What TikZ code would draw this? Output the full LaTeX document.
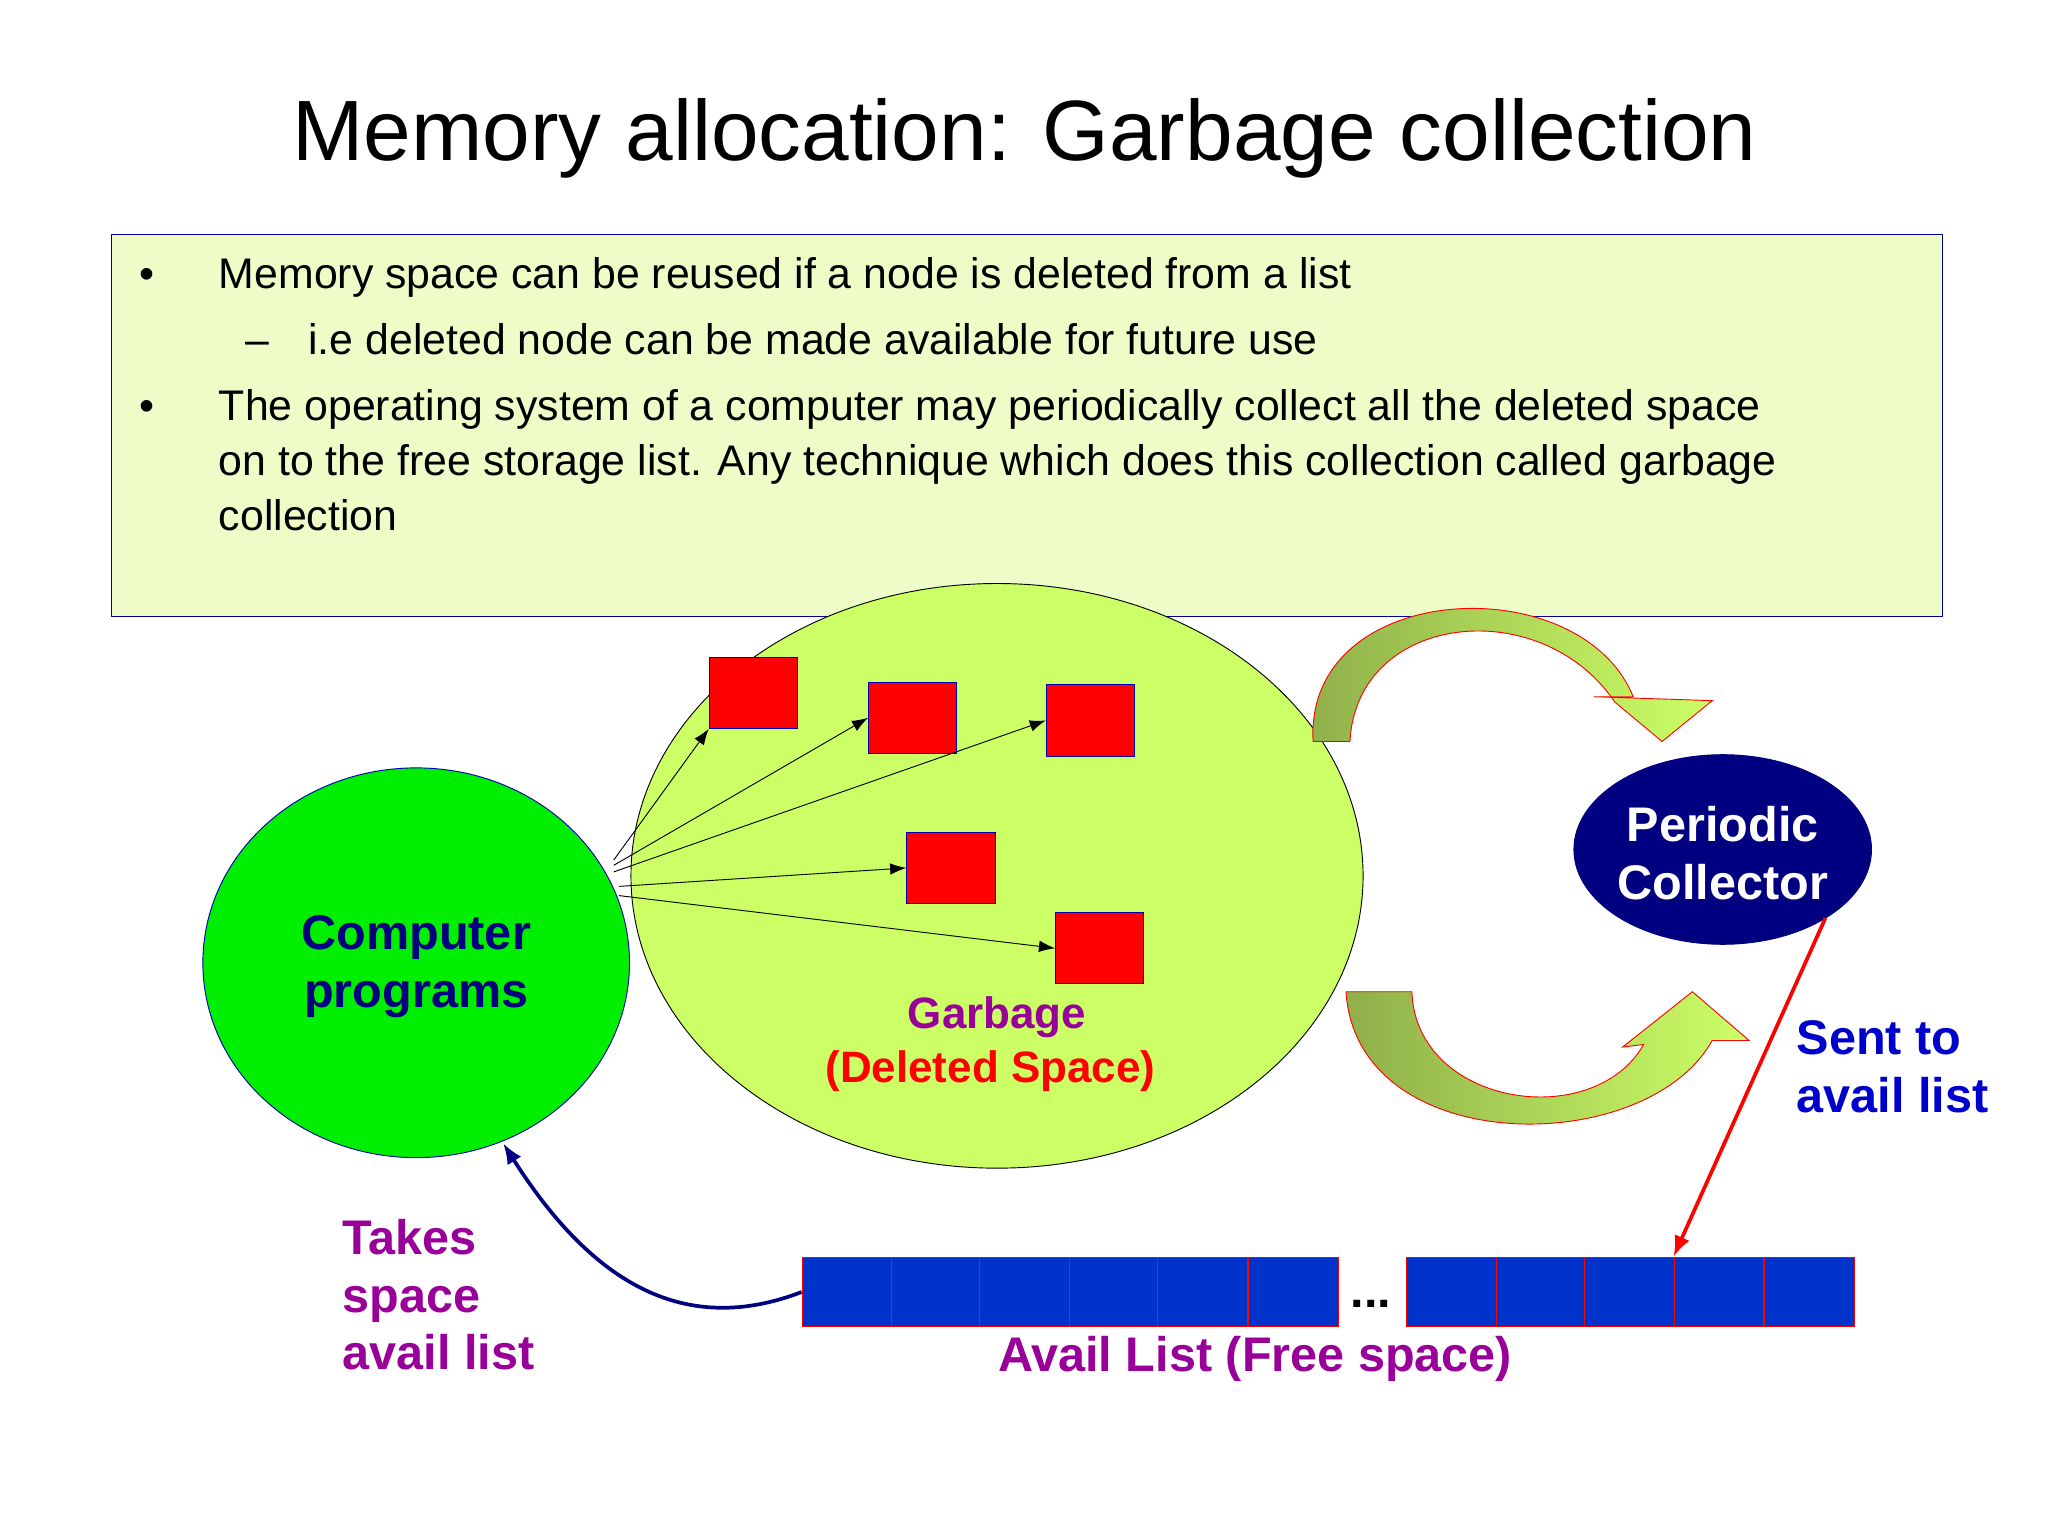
\documentclass[tikz,border=0pt]{standalone}
\usepackage{fontspec}
\setmainfont{Liberation Sans}
\usetikzlibrary{arrows.meta,shapes.geometric}
\definecolor{boxbg}{HTML}{EEFCC8}
\definecolor{garb}{HTML}{CCFF66}
\definecolor{prog}{HTML}{00EE00}
\definecolor{purp}{HTML}{990099}
\definecolor{cellblue}{HTML}{0033CC}
\definecolor{olive}{HTML}{8FAF4A}
\tikzset{
  redsq/.style={draw=blue!70!black, fill=red, minimum width=1.34cm, minimum height=1.08cm, inner sep=0pt},
  cell/.style={draw=red, fill=cellblue, minimum width=1.36cm, minimum height=1.06cm, inner sep=0pt},
  band/.style={draw=red, shading=axis, left color=olive, right color=garb},
  lbl/.style={font=\fontsize{21}{25}\selectfont\bfseries, align=left},
}
\begin{document}
\begin{tikzpicture}[x=0.02cm,y=-0.02cm]
\useasboundingbox (0,0) rectangle (1555,1166);
\node (title) at (778,105) {\fontsize{37}{44}\selectfont Memory allocation: Garbage collection};
\draw[blue!60!black, fill=boxbg] (85,178) rectangle (1475,468);
\begin{scope}[every node/.style={anchor=base west, font=\fontsize{18.5}{22}\selectfont}]
\node (b1) at (100,219) {•};
\node (t1) at (160,219) {Memory space can be reused if a node is deleted from a list};
\node (d1) at (180,269) {–};
\node (t2) at (228,269) {i.e deleted node can be made available for future use};
\node (b2) at (100,319) {•};
\node (t3) at (160,319) {The operating system of a computer may periodically collect all the deleted space};
\node (t4) at (160,361) {on to the free storage list. Any technique which does this collection called garbage};
\node (t5) at (160,403) {collection};
\end{scope}

\node[draw=black, fill=garb, ellipse, minimum width=11.12cm, minimum height=8.88cm] (gb) at (757,665) {};
\node[draw=blue!70!black, fill=prog, ellipse, minimum width=6.48cm, minimum height=5.92cm] (cp) at (316,731) {};
\node[lbl, align=center, text=blue!50!black] (cpt) at (316,734) {Computer\\programs};
\node[font=\fontsize{19}{23}\selectfont\bfseries, text=purp] (g1) at (757,772) {Garbage};
\node[font=\fontsize{19}{23}\selectfont\bfseries, text=red] (g2) at (752,813) {(Deleted Space)};

\node[redsq] (s1) at (572,526) {};
\node[redsq] (s2) at (693,545) {};
\node[redsq] (s3) at (828,547) {};
\node[redsq] (s4) at (722,659) {};
\node[redsq] (s5) at (835,720) {};
\begin{scope}[-{Latex[length=7pt,width=5pt]}, black]
\draw (466,653) -- (s1.south west);
\draw (466,657) -- (s2.west);
\draw (466,662) -- (s3.west);
\draw (470,673) -- (s4.west);
\draw (470,680) -- (s5.west);
\end{scope}

\node[draw=blue!50!black, fill=blue!50!black, ellipse, minimum width=4.52cm, minimum height=2.88cm] (pc) at (1308,645) {};
\node[lbl, align=center, text=white] (pct) at (1308,648) {Periodic\\Collector};

\draw[band] (997,563) .. controls (990,440) and (1200,430) .. (1240,529) -- (1210,529) -- (1300,532) -- (1262,563) -- (1226,533) .. controls (1170,450) and (1030,465) .. (1025,563) -- cycle;
\draw[band] (1022,753) -- (1072,753) .. controls (1075,840) and (1210,860) .. (1248,793) -- (1232,795) -- (1285,753) -- (1328,790) -- (1300,790) .. controls (1250,880) and (1030,880) .. (1022,753) -- cycle;

\foreach \x [count=\i] in {643,711,778,846,913,982} \node[cell] (c\i) at (\x,981) {};
\foreach \x [count=\i from 7] in {1102,1170,1237,1305,1374} \node[cell] (c\i) at (\x,981) {};
\node[font=\fontsize{21}{25}\selectfont\bfseries] (dots) at (1041,990) {...};
\node[lbl, text=purp] (al) at (953,1032) {Avail List (Free space)};

\coordinate (sa) at (1386,697);
\draw[red, line width=1.6pt, -{Latex[length=9pt,width=7pt]}] (sa) -- (c10.north west);
\node[lbl, text=blue!80!black, anchor=west] (st) at (1358,810) {Sent to\\avail list};

\draw[blue!50!black, line width=1.6pt, -{Latex[length=9pt,width=7pt]}] (c1.west) .. controls (520,1015) and (450,975) .. (382,868);
\node[lbl, text=purp, anchor=west, align=left] (tk) at (254,983) {Takes\\space\\avail list};
\end{tikzpicture}
\end{document}
